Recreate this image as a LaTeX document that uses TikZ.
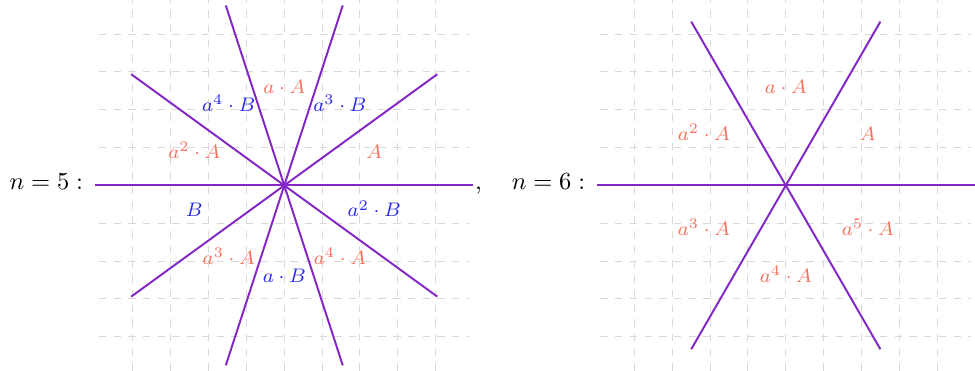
\documentclass[tikz,border=0pt]{standalone}
\usetikzlibrary{calc}
\definecolor{linepurple}{RGB}{131,40,198}
\definecolor{labsalmon}{RGB}{248,112,92}
\definecolor{labblue}{RGB}{40,40,235}
\tikzset{
  gridline/.style={draw=gray!30, thin, dashed, step=15.43pt},
  rayline/.style={draw=linepurple, thick},
  lbl/.style={font=\footnotesize, inner sep=0pt, anchor=mid, yshift=1.2pt},
  lblA/.style={lbl, text=labsalmon},
  lblB/.style={lbl, text=labblue},
  maintext/.style={inner sep=0pt, anchor=base west}
}
\begin{document}
\begin{tikzpicture}[x=15.43pt,y=15.43pt]
\useasboundingbox (-7.513,-4.9) rectangle (18.254,4.9);
% ---------- n = 5 ----------
\draw[gridline] (-4.9,-4.9) grid (4.9,4.9);
\foreach \ang in {0,36,72,108,144}{
  \draw[rayline] (\ang:5) -- (\ang+180:5);
}
\node[maintext] (t5) at (-7.27,-0.106) {$n = 5:$};
\node[maintext] (comma) at (5.03,-0.106) {,};
\node[lblA] (l5a) at (18:2.5) {$A$};
\node[lblB] (l5b) at (54:2.5) {$a^3 \cdot B$};
\node[lblA] (l5c) at (90:2.5) {$a \cdot A$};
\node[lblB] (l5d) at (126:2.5) {$a^4 \cdot B$};
\node[lblA] (l5e) at (162:2.5) {$a^2 \cdot A$};
\node[lblB] (l5f) at (198:2.5) {$B$};
\node[lblA] (l5g) at (234:2.5) {$a^3 \cdot A$};
\node[lblB] (l5h) at (270:2.5) {$a \cdot B$};
\node[lblA] (l5i) at (306:2.5) {$a^4 \cdot A$};
\node[lblB] (l5j) at (342:2.5) {$a^2 \cdot B$};
% ---------- n = 6 ----------
\node[maintext] (t6) at (6.0,-0.106) {$n = 6:$};
\begin{scope}[shift={(13.254,0)}]
\draw[gridline] (-4.9,-4.9) grid (4.9,4.9);
\foreach \ang in {0,60,120}{
  \draw[rayline] (\ang:5) -- (\ang+180:5);
}
\node[lblA] (l6a) at (30:2.5) {$A$};
\node[lblA] (l6b) at (90:2.5) {$a \cdot A$};
\node[lblA] (l6c) at (150:2.5) {$a^2 \cdot A$};
\node[lblA] (l6d) at (210:2.5) {$a^3 \cdot A$};
\node[lblA] (l6e) at (270:2.5) {$a^4 \cdot A$};
\node[lblA] (l6f) at (330:2.5) {$a^5 \cdot A$};
\end{scope}
\end{tikzpicture}
\end{document}
